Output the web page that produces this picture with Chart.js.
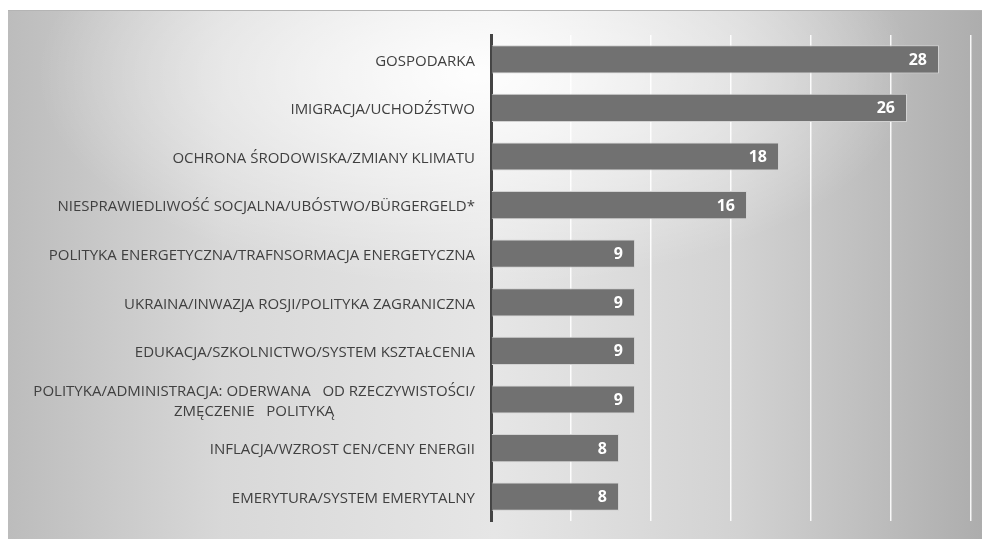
<!DOCTYPE html>
<html>
<head>
<meta charset="utf-8">
<script src="https://cdn.jsdelivr.net/npm/chart.js@4.4.1/dist/chart.umd.min.js"></script>
<style>
  html, body { margin: 0; padding: 0; background: #fff; }
  #wrap {
    position: absolute; left: 8px; top: 10px; width: 974px; height: 529px;
    border-top: 1px solid #b4b4b4;
    background:
      radial-gradient(ellipse 45% 40% at 48% 12%, rgba(255,255,255,0.95), rgba(255,255,255,0) 100%),
      linear-gradient(to right, #bcbcbc 0%, #d8d8d8 22%, #e6e6e6 50%, #d2d2d2 75%, #adadad 100%);
  }
  canvas { position: absolute; left: 0; top: 0; }
</style>
</head>
<body>
<div id="wrap"></div>
<canvas id="chart" width="982" height="539"></canvas>
<script>
// kategorie (od góry do dołu)
const categories = [
  ["GOSPODARKA"],
  ["IMIGRACJA/UCHODŹSTWO"],
  ["OCHRONA ŚRODOWISKA/ZMIANY KLIMATU"],
  ["NIESPRAWIEDLIWOŚĆ SOCJALNA/UBÓSTWO/BÜRGERGELD*"],
  ["POLITYKA ENERGETYCZNA/TRAFNSORMACJA ENERGETYCZNA"],
  ["UKRAINA/INWAZJA ROSJI/POLITYKA ZAGRANICZNA"],
  ["EDUKACJA/SZKOLNICTWO/SYSTEM KSZTAŁCENIA"],
  ["POLITYKA/ADMINISTRACJA: ODERWANA   OD RZECZYWISTOŚCI/", "ZMĘCZENIE   POLITYKĄ"],
  ["INFLACJA/WZROST CEN/CENY ENERGII"],
  ["EMERYTURA/SYSTEM EMERYTALNY"]
];
const values = [28, 26, 18, 16, 9, 9, 9, 9, 8, 8];
const xTicks = [0, 5, 10, 15, 20, 25, 30];

// Rysuje etykiety kategorii (wyrównane do prawej, wieloliniowe wyśrodkowane)
const categoryLabels = {
  id: 'categoryLabels',
  afterDraw(chart) {
    const ctx = chart.ctx;
    const y = chart.scales.y;
    const right = chart.chartArea.left - 16;
    ctx.save();
    ctx.font = '15px "Open Sans"';
    ctx.fillStyle = '#404040';
    ctx.textBaseline = 'middle';
    ctx.textAlign = 'center';
    categories.forEach((lines, i) => {
      const cy = y.getPixelForValue(i) + 2;
      const maxW = Math.max(...lines.map(l => ctx.measureText(l).width));
      const center = right - maxW / 2;
      lines.forEach((l, j) => {
        ctx.fillText(l, center, cy + (j - (lines.length - 1) / 2) * 20);
      });
    });
    ctx.restore();
  }
};

// Wartości na końcu słupków
const valueLabels = {
  id: 'valueLabels',
  afterDatasetsDraw(chart) {
    const ctx = chart.ctx;
    const meta = chart.getDatasetMeta(0);
    ctx.save();
    ctx.font = 'bold 16px "Open Sans"';
    ctx.fillStyle = '#ffffff';
    ctx.textAlign = 'right';
    ctx.textBaseline = 'middle';
    meta.data.forEach((bar, i) => {
      ctx.fillText(String(values[i]), bar.x - 12, bar.y + 1);
    });
    ctx.restore();
  }
};

new Chart(document.getElementById('chart'), {
  type: 'bar',
  data: {
    labels: categories.map(c => c.join(' ')),
    datasets: [{
      data: values,
      backgroundColor: '#717171',
      borderColor: '#d2d2d2',
      borderWidth: 1,
      borderSkipped: 'start',
      barPercentage: 0.58,
      categoryPercentage: 1.0
    }]
  },
  options: {
    indexAxis: 'y',
    responsive: false,
    animation: false,
    layout: { padding: { left: 491, right: 11, top: 35, bottom: 18 } },
    plugins: { legend: { display: false }, tooltip: { enabled: false } },
    scales: {
      x: {
        min: 0,
        max: 30,
        afterBuildTicks: (scale) => { scale.ticks = xTicks.map(v => ({ value: v })); },
        ticks: { display: false },
        grid: { color: 'rgba(255,255,255,0.9)', lineWidth: 1.5, drawTicks: false },
        border: { display: false }
      },
      y: {
        ticks: { display: false },
        grid: { display: false, drawTicks: false },
        border: { display: true, color: '#444444', width: 3 }
      }
    }
  },
  plugins: [categoryLabels, valueLabels]
});
</script>
</body>
</html>
